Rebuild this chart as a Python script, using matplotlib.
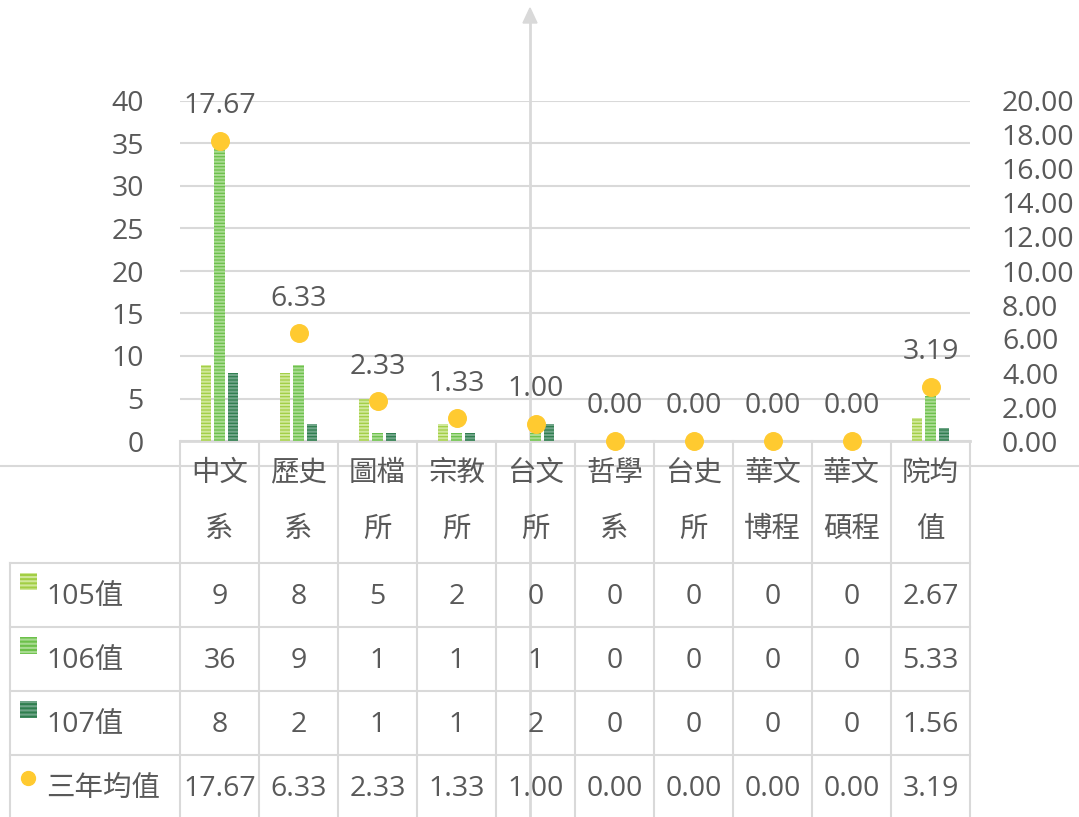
import matplotlib.pyplot as plt
from matplotlib.lines import Line2D
import numpy as np

plt.rcParams['font.family'] = ['Open Sans', 'Noto Sans CJK TC', 'DejaVu Sans']

categories = ['中文系', '歷史系', '圖檔所', '宗教所', '台文所', '哲學系', '台史所', '華文博程', '華文碩程', '院均值']
cat_lines = [('中文', '系'), ('歷史', '系'), ('圖檔', '所'), ('宗教', '所'), ('台文', '所'),
             ('哲學', '系'), ('台史', '所'), ('華文', '博程'), ('華文', '碩程'), ('院均', '值')]
v105 = [9, 8, 5, 2, 0, 0, 0, 0, 0, 2.67]
v106 = [36, 9, 1, 1, 1, 0, 0, 0, 0, 5.33]
v107 = [8, 2, 1, 1, 2, 0, 0, 0, 0, 1.56]
avg3 = [17.67, 6.33, 2.33, 1.33, 1.00, 0.00, 0.00, 0.00, 0.00, 3.19]
row_names = ['105值', '106值', '107值', '三年均值']
table_text = [
    ['9', '8', '5', '2', '0', '0', '0', '0', '0', '2.67'],
    ['36', '9', '1', '1', '1', '0', '0', '0', '0', '5.33'],
    ['8', '2', '1', '1', '2', '0', '0', '0', '0', '1.56'],
    ['%.2f' % v for v in avg3],
]

W, H = 1079, 817
TXT = '#595959'
GRID = '#D9D9D9'
colors = [('#A2CE44', '#D0E89A'), ('#6CC04A', '#A8DB91'), ('#2F7E4E', '#6FA588')]
DOT = '#FFCA30'
FS = 20.5

fig = plt.figure(figsize=(W / 100, H / 100), dpi=100)


def fx(x):
    return x / W


def fy(y):
    return 1 - y / H


ax = fig.add_axes([fx(180), fy(441), (970 - 180) / W, (441 - 101) / H])
ax2 = ax.twinx()
ax.patch.set_visible(False)
ax2.patch.set_visible(False)

x = np.arange(len(categories))
bw = 0.127
step = 0.177
plt.rcParams['hatch.linewidth'] = 1.5
for i, vals in enumerate([v105, v106, v107]):
    ax.bar(x + (i - 1) * step, vals, width=bw, color=colors[i][0],
           edgecolor=colors[i][1], linewidth=0, hatch='-----', zorder=3)

ax.set_xlim(-0.5, len(categories) - 0.5)
ax.set_ylim(0, 40)
ax.set_yticks(range(0, 41, 5))
ax.yaxis.grid(True, color=GRID, linewidth=1.5, zorder=0)
ax.set_axisbelow(True)
ax.set_xticks([])
for s in ['top', 'left', 'right']:
    ax.spines[s].set_visible(False)
ax.spines['bottom'].set_color(GRID)
ax.spines['bottom'].set_linewidth(2)
ax.tick_params(axis='y', length=0, labelsize=FS, labelcolor=TXT, pad=26)

ax2.set_ylim(0, 20)
ax2.set_yticks(np.arange(0, 20.01, 2))
ax2.set_yticklabels(['%.2f' % t for t in np.arange(0, 20.01, 2)])
ax2.tick_params(axis='y', length=0, labelsize=FS, labelcolor=TXT, pad=23)
for s in ax2.spines.values():
    s.set_visible(False)

ax2.scatter(x, avg3, s=160, color=DOT, zorder=5, clip_on=False)
for xi, v in zip(x, avg3):
    ax2.annotate('%.2f' % v, (xi, v), xytext=(0, 25), textcoords='offset points',
                 ha='center', va='center', fontsize=FS, color=TXT)

# crosshair lines
fig.add_artist(Line2D([0, 1], [fy(466), fy(466)], color=GRID, lw=1.5, zorder=0))
fig.add_artist(Line2D([fx(530), fx(530)], [fy(20), 0], color=GRID, lw=2, zorder=0))
fig.add_artist(plt.Polygon([[fx(530), fy(8)], [fx(523), fy(23)], [fx(537), fy(23)]],
                           closed=True, color=GRID, transform=fig.transFigure, zorder=0))

# data table
col_edges = [180 + 79 * i for i in range(11)]
row_edges = [563, 627, 691, 755, 819]
for cx in col_edges:
    fig.add_artist(Line2D([fx(cx), fx(cx)], [fy(441), fy(817)], color=GRID, lw=1.5))
fig.add_artist(Line2D([fx(10), fx(10)], [fy(563), fy(817)], color=GRID, lw=1.5))
for ry in row_edges[:-1]:
    fig.add_artist(Line2D([fx(10), fx(970)], [fy(ry), fy(ry)], color=GRID, lw=1.5))

for i, (l1, l2) in enumerate(cat_lines):
    cx = (col_edges[i] + col_edges[i + 1]) / 2
    fig.text(fx(cx), fy(474), l1, ha='center', va='center', fontsize=FS, color=TXT)
    fig.text(fx(cx), fy(530), l2, ha='center', va='center', fontsize=FS, color=TXT)

for r, name in enumerate(row_names):
    cy = (row_edges[r] + row_edges[r + 1]) / 2 - 1
    fig.text(fx(46), fy(cy + 3), name, ha='left', va='center', fontsize=FS, color=TXT)
    if r < 3:
        fig.add_artist(plt.Rectangle((fx(20), fy(cy - 4)), 17 / W, 17 / H,
                                     facecolor=colors[r][0], edgecolor=colors[r][1],
                                     linewidth=0, hatch='----', transform=fig.transFigure))
    else:
        fig.add_artist(Line2D([fx(28)], [fy(cy - 8)], marker='o', markersize=10,
                              color=DOT, linestyle='none'))
    for i, t in enumerate(table_text[r]):
        cx = (col_edges[i] + col_edges[i + 1]) / 2
        fig.text(fx(cx), fy(cy + 3), t, ha='center', va='center', fontsize=FS, color=TXT)

fig.savefig('out.png', dpi=100)
